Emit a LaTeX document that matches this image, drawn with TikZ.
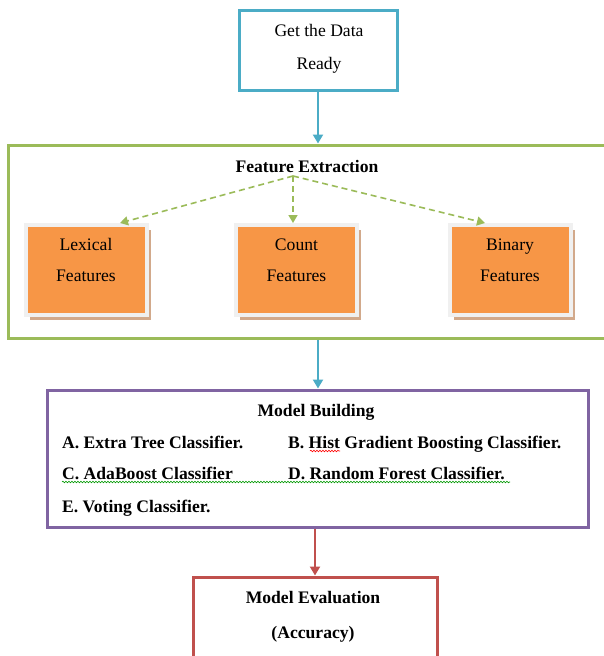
\documentclass[tikz,border=0pt]{standalone}
\usepackage{fontspec}
\setmainfont{Liberation Serif}
\usetikzlibrary{arrows.meta,decorations.pathmorphing}
\definecolor{caqua}{HTML}{4BACC6}
\definecolor{cgreen}{HTML}{9BBB59}
\definecolor{corange}{HTML}{F79646}
\definecolor{cpurple}{HTML}{8064A2}
\definecolor{cred}{HTML}{C0504D}
\definecolor{cshadow}{HTML}{D2A98B}
\definecolor{cframe}{HTML}{F0F0F0}
\tikzset{
  stagebox/.style={draw=#1, line width=3pt, fill=white, inner sep=0pt},
  bodytext/.style={font=\fontsize{17.6}{20}\selectfont, anchor=base, inner sep=0pt},
  boldtext/.style={font=\bfseries\fontsize{17.6}{20}\selectfont, anchor=base, inner sep=0pt},
  itemtext/.style={font=\bfseries\fontsize{17.6}{20}\selectfont, anchor=base west, inner sep=0pt},
  flow/.style={draw=#1, line width=2.6pt, -{Triangle[width=10pt,length=9pt]}},
  featlink/.style={draw=cgreen, line width=1.6pt, dash pattern=on 6pt off 4pt,
    -{Triangle[width=9pt,length=8pt]}},
  featbox/.style={fill=corange, minimum width=117pt, minimum height=86pt, inner sep=0pt},
  squiggle/.style={draw=#1, line width=0.6pt,
    decorate, decoration={snake, amplitude=0.8pt, segment length=3pt}},
}
\begin{document}
\begin{tikzpicture}[x=1pt,y=-1pt]
\useasboundingbox (0,0) rectangle (603,656);
\fill[white] (0,0) rectangle (603,656);

% stage 1
\node[stagebox=caqua, minimum width=158pt, minimum height=80pt] (data) at (318,50.5) {};
\node[bodytext] (data1) at (319,36) {Get the Data};
\node[bodytext] (data2) at (319,69) {Ready};

% stage 2: feature extraction frame
\node[stagebox=cgreen, minimum width=604pt, minimum height=193pt] (feat) at (310,241.5) {};
\node[boldtext] (fe) at (307,172) {Feature Extraction};
\coordinate (fork) at (293,176);

% feature boxes with frame and shadow
\foreach \nm/\cx/\lineA in {lex/86/Lexical, cnt/296.5/Count, bin/510/Binary}{
  \fill[cshadow] (\cx-58.5+2,269.5-43+3) rectangle (\cx+58.5+6,269.5+43+7);
  \fill[cframe] (\cx-58.5-4,269.5-43-4) rectangle (\cx+58.5+4,269.5+43+4);
  \node[featbox] (\nm) at (\cx,269.5) {};
  \node[bodytext] (\nm a) at (\cx,250) {\lineA};
  \node[bodytext] (\nm b) at (\cx,281) {Features};
}

\draw[featlink] (fork) -- (120,223);
\draw[featlink] (fork) -- (293,223);
\draw[featlink] (fork) -- (485,223);

% stage 3: model building
\node[stagebox=cpurple, minimum width=541pt, minimum height=137pt] (model) at (317.5,458.5) {};
\node[boldtext] (mb) at (316,416) {Model Building};
\node[itemtext] (ia) at (62,448) {A. Extra Tree Classifier.};
\node[itemtext] (ib) at (288,448) {B. Hist Gradient Boosting Classifier.};
\node[itemtext] (ic) at (62,479) {C. AdaBoost Classifier};
\node[itemtext] (id) at (288,479) {D. Random Forest Classifier.};
\node[itemtext] (ie) at (62,512) {E. Voting Classifier.};
\draw[squiggle=red] (310,451) -- (340,451);
\draw[squiggle=green!60!black] (62,482) -- (510,482);

% stage 4: evaluation
\node[stagebox=cred, minimum width=244pt, minimum height=100pt] (eval) at (315,627) {};
\node[boldtext] (ev1) at (313,603) {Model Evaluation};
\node[boldtext] (ev2) at (313,638) {(Accuracy)};

% connectors
\draw[flow=caqua] (data.south) -- (data.south |- feat.north);
\draw[flow=caqua] (feat.south -| data.south) -- (model.north -| data.south);
\draw[flow=cred] (model.south -| eval.north) -- (eval.north);
\end{tikzpicture}
\end{document}
